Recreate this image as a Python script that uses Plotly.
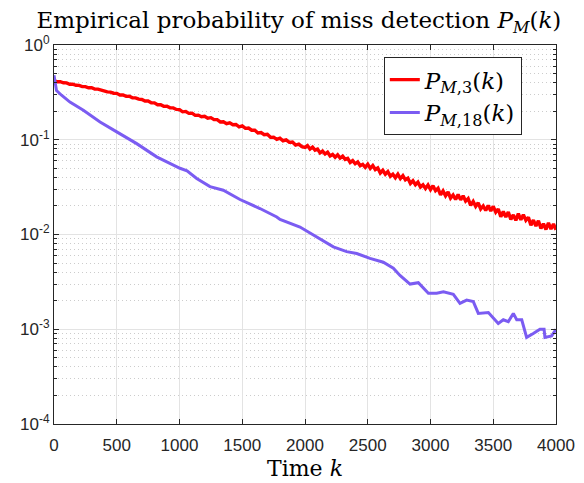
import plotly.graph_objects as go

# P_{M,3}(k): every 25 steps up to 2000, then every 20 steps (noisy band)
k_red = list(range(0, 2000, 25)) + list(range(2000, 4001, 20))
p_red = [
    0.421, 0.409, 0.410, 0.399, 0.398, 0.385, 0.386, 0.376, 0.375, 0.364,
    0.364, 0.354, 0.354, 0.343, 0.342, 0.333, 0.330, 0.320, 0.318, 0.310,
    0.309, 0.297, 0.297, 0.287, 0.288, 0.277, 0.277, 0.268, 0.266, 0.256,
    0.256, 0.246, 0.245, 0.234, 0.234, 0.225, 0.226, 0.217, 0.217, 0.209,
    0.208, 0.197, 0.199, 0.190, 0.191, 0.181, 0.182, 0.175, 0.177, 0.169,
    0.171, 0.163, 0.163, 0.154, 0.155, 0.148, 0.151, 0.144, 0.145, 0.137,
    0.140, 0.132, 0.133, 0.126, 0.126, 0.118, 0.119, 0.113, 0.114, 0.106,
    0.1066, 0.1009, 0.1041, 0.0976, 0.0998, 0.0939, 0.0946, 0.0879, 0.0897, 0.0845,
    # from k = 2000, step 20
    0.0830,
    0.0866, 0.0799, 0.0838, 0.0777, 0.0798, 0.0726, 0.0759, 0.0707, 0.0739, 0.0675,
    0.0700, 0.0654, 0.0695, 0.0640, 0.0670, 0.0620, 0.0635, 0.0576, 0.0602, 0.0558,
    0.0583, 0.0531, 0.0550, 0.0512, 0.0553, 0.0499, 0.0534, 0.0485, 0.0504, 0.0446,
    0.0476, 0.0433, 0.0462, 0.0411, 0.0433, 0.0397, 0.0433, 0.0390, 0.0418, 0.0378,
    0.0393, 0.0346, 0.0369, 0.0335, 0.0357, 0.0317, 0.0334, 0.0306, 0.0333, 0.0297,
    0.0327, 0.0290, 0.0307, 0.0262, 0.0288, 0.0256, 0.0281, 0.0242, 0.0261, 0.0234,
    0.0265, 0.0232, 0.0256, 0.0225, 0.0239, 0.0203, 0.0223, 0.0198, 0.0216, 0.0186,
    0.0200, 0.0179, 0.0202, 0.0177, 0.0198, 0.0172, 0.0186, 0.0154, 0.0175, 0.0153,
    0.0173, 0.0144, 0.0161, 0.0141, 0.0166, 0.0143, 0.0162, 0.0141, 0.0152, 0.0125,
    0.0142, 0.0123, 0.0140, 0.0116, 0.0130, 0.0113, 0.0133, 0.0114, 0.0129, 0.0112,
]

# P_{M,18}(k)
k_purple = [0, 8, 20, 60, 127, 234, 367, 500, 659, 818, 1004, 1060, 1137, 1243,
            1309, 1349, 1482, 1641, 1775, 1801, 1960, 2093, 2226, 2332, 2412,
            2518, 2624, 2704, 2757, 2837, 2903, 2983, 3049, 3103, 3182, 3235,
            3288, 3341, 3381, 3461, 3514, 3540, 3580, 3620, 3660, 3687, 3727,
            3753, 3766, 3819, 3872, 3905, 3912, 3965, 3985, 4000]
p_purple = [0.48, 0.40, 0.33, 0.295, 0.25, 0.205, 0.154, 0.121, 0.091, 0.066,
            0.050, 0.047, 0.039, 0.032, 0.0305, 0.0293, 0.0234, 0.0188, 0.0153,
            0.0144, 0.012, 0.0094, 0.0074, 0.0066, 0.0063, 0.0056, 0.0051,
            0.0044, 0.0037, 0.0030, 0.0031, 0.0024, 0.0024, 0.00248, 0.00234,
            0.00188, 0.00203, 0.00196, 0.00147, 0.00150, 0.00126, 0.00115,
            0.00126, 0.00120, 0.00147, 0.00126, 0.00126, 0.00094, 0.00082,
            0.00090, 0.0010, 0.0010, 0.00082, 0.00085, 0.00092, 0.0010]

x_ticks = [0, 500, 1000, 1500, 2000, 2500, 3000, 3500, 4000]
y_ticks = [1e-4, 1e-3, 1e-2, 1e-1, 1]
y_labels = ["10<sup>-4</sup>", "10<sup>-3</sup>", "10<sup>-2</sup>",
            "10<sup>-1</sup>", "10<sup>0</sup>"]
y_minor = [m * 10 ** e for e in range(-4, 0) for m in range(2, 10)]

serif = "DejaVu Serif"
sans = "Liberation Sans"

fig = go.Figure()
fig.add_trace(go.Scatter(x=k_red, y=p_red, mode="lines",
                         line=dict(color="#ff0000", width=3.4),
                         name="<i>P</i><sub><i>M</i>,3</sub>(<i>k</i>)"))
fig.add_trace(go.Scatter(x=k_purple, y=p_purple, mode="lines",
                         line=dict(color="#7b5cf2", width=3),
                         name="<i>P</i><sub><i>M</i>,18</sub>(<i>k</i>)"))

# page body adds 8px, so the figure is 8px smaller than the window
fig.update_layout(
    width=576, height=475,
    margin=dict(l=46, r=28, t=37, b=59),
    paper_bgcolor="white", plot_bgcolor="white",
    title=dict(text="Empirical probability of miss detection <i>P</i><sub><i>M</i></sub>(<i>k</i>)",
               xref="container", x=0.505, xanchor="center",
               yref="container", y=0.975, yanchor="middle",
               font=dict(family=serif, size=23, color="black")),
    legend=dict(x=0.657, y=0.968, xanchor="left", yanchor="top",
                bgcolor="white", bordercolor="#262626", borderwidth=1,
                font=dict(family=serif, size=23, color="black"),
                tracegroupgap=0),
)
fig.update_xaxes(
    range=[0, 4000], tickvals=x_ticks, automargin=False,
    ticks="inside", ticklen=5, tickcolor="#262626",
    showline=True, linecolor="#262626", linewidth=1, mirror="ticks",
    showgrid=True, gridcolor="#e3e3e3", gridwidth=1, zeroline=False,
    tickfont=dict(family=sans, size=17, color="#262626"), ticklabelstandoff=6,
    title=dict(text="Time <i>k</i>", standoff=6,
               font=dict(family=serif, size=22, color="black")),
)
fig.update_yaxes(
    type="log", range=[-4, 0], tickvals=y_ticks, ticktext=y_labels, automargin=False,
    ticks="inside", ticklen=5, tickcolor="#262626",
    showline=True, linecolor="#262626", linewidth=1, mirror="ticks",
    showgrid=True, gridcolor="#e3e3e3", gridwidth=1, zeroline=False,
    tickfont=dict(family=sans, size=17, color="#262626"),
    minor=dict(tickvals=y_minor, ticks="inside", ticklen=3, tickcolor="#262626",
               showgrid=True, gridcolor="#cccccc", griddash="1px,3px", gridwidth=1),
)

fig.write_html("out.html")
